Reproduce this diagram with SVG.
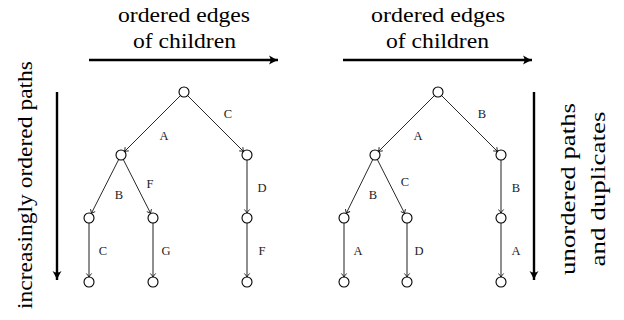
<svg xmlns="http://www.w3.org/2000/svg" width="624" height="320" viewBox="0 0 624 320">
<style>
.t{font-family:"Liberation Serif","Times New Roman",serif;fill:#000;}
.big{font-size:20px;text-anchor:middle;}
.lbl{font-size:12.5px;text-anchor:middle;fill:#222;}
.n{fill:#fff;stroke:#000;stroke-width:1.1;}
.e{stroke:#111;stroke-width:0.9;fill:none;marker-end:url(#ah);}
.ev{stroke:#333;stroke-width:1.1;fill:none;marker-end:url(#ah);}
.th{stroke:#000;stroke-width:2.4;fill:none;marker-end:url(#ahb);}
</style>
<defs>
<marker id="ah" markerUnits="userSpaceOnUse" markerWidth="10" markerHeight="10" viewBox="-5 -5 10 10" refX="0" refY="0" orient="auto">
<path d="M-3.5,-2.6 Q-1.2,-0.6 0,0 Q-1.2,0.6 -3.5,2.6" fill="none" stroke="#111" stroke-width="0.9"/>
</marker>
<marker id="ahb" markerUnits="userSpaceOnUse" markerWidth="16" markerHeight="16" viewBox="-12 -8 16 16" refX="0" refY="0" orient="auto">
<path d="M-9,-4.5 Q-3,-1 0,0 Q-3,1 -9,4.5 Q-6,0 -9,-4.5 Z" fill="#000"/>
</marker>
</defs>

<g id="labels">
<text class="t big" x="184" y="22" textLength="132" lengthAdjust="spacingAndGlyphs">ordered edges</text>
<text class="t big" x="184.5" y="48" textLength="103" lengthAdjust="spacingAndGlyphs">of children</text>
<text class="t big" x="438" y="22" textLength="134" lengthAdjust="spacingAndGlyphs">ordered edges</text>
<text class="t big" x="437.5" y="48" textLength="103" lengthAdjust="spacingAndGlyphs">of children</text>
<text class="t big" transform="translate(32,185) rotate(-90)" textLength="248" lengthAdjust="spacingAndGlyphs">increasingly ordered paths</text>
<text class="t big" transform="translate(575,189) rotate(-90)" textLength="172" lengthAdjust="spacingAndGlyphs">unordered paths</text>
<text class="t big" transform="translate(605,189) rotate(-90)" textLength="155" lengthAdjust="spacingAndGlyphs">and duplicates</text>
</g>

<g id="connectors">
<line class="th" x1="89" y1="60" x2="278" y2="60"/>
<line class="th" x1="343" y1="60" x2="532" y2="60"/>
<line class="th" x1="57" y1="92" x2="57" y2="280"/>
<line class="th" x1="534" y1="92" x2="534" y2="280"/>

<line class="e" x1="180.5" y1="95.5" x2="124.5" y2="151.5"/>
<line class="e" x1="187.5" y1="95.5" x2="243.5" y2="151.5"/>
<line class="e" x1="118.7" y1="159.5" x2="91.3" y2="213.5"/>
<line class="e" x1="123.3" y1="159.5" x2="150.7" y2="213.5"/>
<line class="ev" x1="247" y1="160" x2="247" y2="213"/>
<line class="ev" x1="89" y1="223" x2="89" y2="277"/>
<line class="ev" x1="153" y1="223" x2="153" y2="277"/>
<line class="ev" x1="247" y1="223" x2="247" y2="277"/>

<line class="e" x1="434.5" y1="95.5" x2="378.5" y2="151.5"/>
<line class="e" x1="441.5" y1="95.5" x2="497.5" y2="151.5"/>
<line class="e" x1="372.8" y1="159.5" x2="346.2" y2="213.5"/>
<line class="e" x1="377.3" y1="159.5" x2="404.7" y2="213.5"/>
<line class="ev" x1="501" y1="160" x2="501" y2="213"/>
<line class="ev" x1="344" y1="223" x2="344" y2="277"/>
<line class="ev" x1="407" y1="223" x2="407" y2="277"/>
<line class="ev" x1="501" y1="223" x2="501" y2="277"/>

<text class="t lbl" x="164" y="139.5">A</text>
<text class="t lbl" x="228" y="117.5">C</text>
<text class="t lbl" x="119" y="198.5">B</text>
<text class="t lbl" x="150" y="187.5">F</text>
<text class="t lbl" x="262" y="191.5">D</text>
<text class="t lbl" x="103" y="254.5">C</text>
<text class="t lbl" x="166" y="254.5">G</text>
<text class="t lbl" x="262" y="254.5">F</text>

<text class="t lbl" x="418" y="139.5">A</text>
<text class="t lbl" x="482" y="117.5">B</text>
<text class="t lbl" x="373" y="198.5">B</text>
<text class="t lbl" x="405" y="185.5">C</text>
<text class="t lbl" x="516" y="191.5">B</text>
<text class="t lbl" x="358" y="254.5">A</text>
<text class="t lbl" x="419" y="254.5">D</text>
<text class="t lbl" x="516" y="254.5">A</text>
</g>

<g id="n1"><circle class="n" cx="184" cy="92" r="5"/></g>
<g id="n2"><circle class="n" cx="121" cy="155" r="5"/></g>
<g id="n3"><circle class="n" cx="247" cy="155" r="5"/></g>
<g id="n4"><circle class="n" cx="89" cy="218" r="5"/></g>
<g id="n5"><circle class="n" cx="153" cy="218" r="5"/></g>
<g id="n6"><circle class="n" cx="247" cy="218" r="5"/></g>
<g id="n7"><circle class="n" cx="89" cy="282" r="5"/></g>
<g id="n8"><circle class="n" cx="153" cy="282" r="5"/></g>
<g id="n9"><circle class="n" cx="247" cy="282" r="5"/></g>

<g id="m1"><circle class="n" cx="438" cy="92" r="5"/></g>
<g id="m2"><circle class="n" cx="375" cy="155" r="5"/></g>
<g id="m3"><circle class="n" cx="501" cy="155" r="5"/></g>
<g id="m4"><circle class="n" cx="344" cy="218" r="5"/></g>
<g id="m5"><circle class="n" cx="407" cy="218" r="5"/></g>
<g id="m6"><circle class="n" cx="501" cy="218" r="5"/></g>
<g id="m7"><circle class="n" cx="344" cy="282" r="5"/></g>
<g id="m8"><circle class="n" cx="407" cy="282" r="5"/></g>
<g id="m9"><circle class="n" cx="501" cy="282" r="5"/></g>
</svg>
